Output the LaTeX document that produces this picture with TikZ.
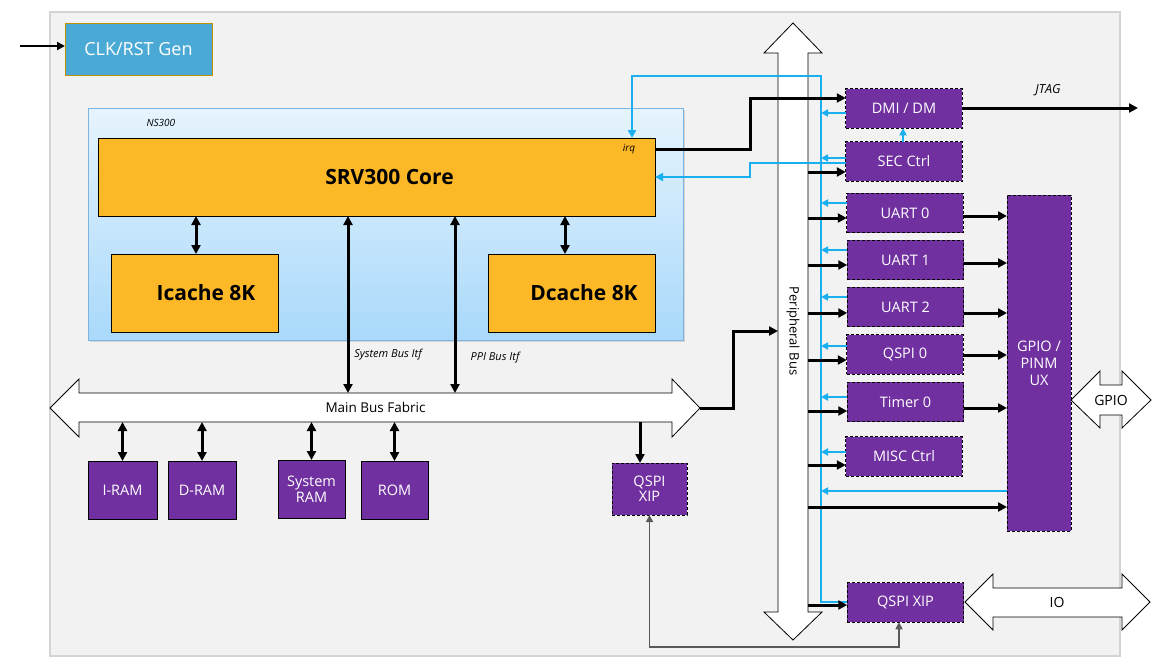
\documentclass[tikz,border=0pt]{standalone}
\usepackage{fontspec}
\setmainfont{Open Sans}
\usetikzlibrary{arrows.meta,shadows}
\definecolor{purp}{HTML}{7030A0}
\definecolor{coreorange}{HTML}{FDB827}
\definecolor{clkblue}{HTML}{4BAAD5}
\definecolor{clkborder}{HTML}{BF9000}
\definecolor{panelgray}{HTML}{F2F2F2}
\definecolor{panelborder}{HTML}{D4D4D4}
\definecolor{irqblue}{HTML}{1AAFEF}
\definecolor{nstop}{HTML}{E6F4FD}
\definecolor{nsbot}{HTML}{A9D9FB}
\definecolor{nsborder}{HTML}{7DB3E0}
\definecolor{linkgray}{HTML}{5A5A5A}
\tikzset{
  pbox/.style={draw=black, dash pattern=on 3pt off 2pt, line width=0.8pt, fill=purp, text=white,
    font=\fontsize{14.5}{17}\selectfont, inner sep=0pt, outer sep=0pt,
    minimum width=116.5pt, minimum height=39.5pt, align=center},
  mbox/.style={draw=black, line width=0.9pt, fill=purp, text=white,
    font=\fontsize{14.5}{16}\selectfont, inner sep=0pt, outer sep=0pt,
    minimum width=69pt, minimum height=58pt, align=center},
  cbox/.style={draw=black, line width=0.9pt, fill=coreorange, inner sep=0pt, outer sep=0pt},
  bigbold/.style={font=\fontsize{21}{24}\selectfont\bfseries},
  itlabel/.style={font=\fontsize{11}{13}\selectfont\itshape},
  blockarrow/.style={draw=black, line width=0.8pt, fill=white},
  blk/.style={line width=3pt, -{Triangle[length=9pt,width=9pt]}},
  dblk/.style={line width=3pt, {Triangle[length=9pt,width=9pt]}-{Triangle[length=9pt,width=9pt]}},
  bmain/.style={draw=irqblue, line width=2pt},
  bsmall/.style={draw=irqblue, line width=1.8pt, -{Triangle[length=7pt,width=7pt]}},
  glink/.style={draw=linkgray, line width=1.6pt, {Triangle[length=7pt,width=7pt]}-{Triangle[length=7pt,width=7pt]}}
}
\begin{document}
\begin{tikzpicture}[x=1pt,y=-1pt]
\useasboundingbox (0,0) rectangle (1167,665);
% panel
\fill[white] (0,0) rectangle (1167,665);
\draw[panelborder, line width=1.6pt, fill=panelgray] (50,12) rectangle (1120,656);

% CLK
\node[draw=clkborder, line width=0.9pt, fill=clkblue, text=white, font=\fontsize{18}{20}\selectfont,
  minimum width=147pt, minimum height=52pt, inner sep=0pt, outer sep=0pt] (clk) at (138.5,49) {CLK/RST Gen};
\coordinate (clkin) at (20,46);
\draw[line width=2.2pt, -{Triangle[length=8pt,width=8pt]}] (clkin) -- (clk.west |- clkin);

% NS300
\node[draw=nsborder, line width=0.9pt, top color=nstop, bottom color=nsbot,
  minimum width=595pt, minimum height=232pt, inner sep=0pt, outer sep=0pt,
  drop shadow={shadow xshift=2pt, shadow yshift=-2pt, opacity=0.25}] (ns) at (385.5,224) {};
\node[font=\fontsize{10}{12}\selectfont\itshape, anchor=west] (nslabel) at (143,123) {NS300};

\node[cbox, minimum width=557pt, minimum height=78pt] (core) at (376.5,177) {};
\node[bigbold] (coretext) at (389.5,177) {SRV300 Core};
\node[font=\fontsize{10}{12}\selectfont\itshape] (irq) at (629,149) {irq};
\node[cbox, minimum width=167pt, minimum height=78pt] (icache) at (194.5,293) {};
\node[bigbold] (icachetext) at (206,293) {Icache 8K};
\node[cbox, minimum width=167pt, minimum height=78pt] (dcache) at (571.5,293) {};
\node[bigbold] (dcachetext) at (584,293) {Dcache 8K};

\draw[dblk] ([xshift=1.5pt]icache.north) -- ([xshift=1.5pt]icache.north |- core.south);
\draw[dblk] ([xshift=-6.5pt]dcache.north) -- ([xshift=-6.5pt]dcache.north |- core.south);

% Main bus fabric
\draw[blockarrow] (50,408) -- (79,379) -- (79,393) -- (672,393) -- (672,379) -- (700,408)
  -- (672,437) -- (672,422) -- (79,422) -- (79,437) -- cycle;
\node[font=\fontsize{13.5}{15}\selectfont, minimum width=593pt, minimum height=29pt, inner sep=0pt, outer sep=0pt]
  (mbf) at (375.5,407.5) {Main Bus Fabric};
\coordinate (mbtip) at (700,408);

% Peripheral bus
\draw[blockarrow] (793,23) -- (822,53) -- (808,53) -- (808,612) -- (822,612) -- (793,640)
  -- (764,612) -- (778,612) -- (778,53) -- (764,53) -- cycle;
\node[minimum width=30pt, minimum height=559pt, inner sep=0pt, outer sep=0pt] (pbus) at (793,332.5) {};
\node[rotate=-90, font=\fontsize{13}{15}\selectfont] (pbuslabel) at (793,331) {Peripheral Bus};

% System / PPI bus interfaces
\coordinate (sbx) at (348,0);
\coordinate (ppix) at (455,0);
\draw[dblk] (core.south -| sbx) -- (mbf.north -| sbx);
\draw[dblk] (core.south -| ppix) -- (mbf.north -| ppix);
\node[itlabel] (sbl) at (388,355) {System Bus Itf};
\node[itlabel] (ppil) at (495,358) {PPI Bus Itf};

% Memories
\node[mbox] (iram) at (122.5,490) {I-RAM};
\node[mbox, minimum width=68pt] (dram) at (202,490) {D-RAM};
\node[mbox, minimum width=67pt] (sysram) at (311.5,489) {System\\RAM};
\node[mbox, minimum width=67pt] (rom) at (394.5,490) {ROM};
\foreach \m in {iram,dram,sysram,rom}{
  \draw[dblk] (\m.north |- mbf.south) -- (\m.north);
}

% left QSPI XIP
\node[pbox, minimum width=75pt, minimum height=52pt, font=\fontsize{14.5}{15}\selectfont] (qxl) at (649.5,489) {QSPI\\XIP};
\draw[blk] ([xshift=-9.5pt]qxl.north |- mbf.south) -- ([xshift=-9.5pt]qxl.north);

% Peripherals
\node[pbox] (dmi) at (904,108.5) {DMI / DM};
\node[pbox] (sec) at (904,161.5) {SEC Ctrl};
\node[pbox] (uart0) at (905,213) {UART 0};
\node[pbox] (uart1) at (905.5,260) {UART 1};
\node[pbox] (uart2) at (905.5,307) {UART 2};
\node[pbox] (qspi0) at (905,354.5) {QSPI 0};
\node[pbox] (timer0) at (905.5,402) {Timer 0};
\node[pbox] (misc) at (904,456.5) {MISC Ctrl};
\node[pbox] (qxr) at (905.5,602.5) {QSPI XIP};
\node[pbox, minimum width=64pt, minimum height=336pt] (gpio) at (1039,363) {GPIO /\\PINM\\UX};

% GPIO and IO block arrows
\draw[blockarrow] (1071,400) -- (1100,371) -- (1100,385) -- (1122,385) -- (1122,371) -- (1151,400)
  -- (1122,428) -- (1122,415) -- (1100,415) -- (1100,428) -- cycle;
\node[font=\fontsize{14}{16}\selectfont] (gpiolabel) at (1111,400) {GPIO};
\draw[blockarrow] (965,602) -- (993,574) -- (993,588) -- (1122,588) -- (1122,574) -- (1150,602)
  -- (1122,630) -- (1122,617) -- (993,617) -- (993,630) -- cycle;
\node[font=\fontsize{14}{16}\selectfont] (iolabel) at (1057,602) {IO};

% main bus -> peripheral bus
\draw[blk] (mbtip) -- (733,408) -- (733,331) -- (pbus.west |- 0,331);

% blue interrupt bus
\coordinate (blueline) at (821,0);
\draw[bmain, -{Triangle[length=8pt,width=8pt]}] (qxr.west |- 0,602) -| (821,76) -| (core.north -| 632,0);
\foreach \n/\yb in {dmi/113, sec/158, uart0/203, uart1/250, uart2/297, qspi0/346, timer0/397, misc/452, gpio/491}{
  \draw[bsmall] (\n.west |- 0,\yb) -- (blueline |- 0,\yb);
}
\draw[bsmall] (sec.north -| 903,0) -- (dmi.south -| 903,0);
\draw[bmain, -{Triangle[length=8pt,width=8pt]}] (sec.west |- 0,163) -| (750,177) -- (core.east |- 0,177);

% core irq -> DMI
\draw[blk] (core.east |- 0,149) -| (750,98) -- (dmi.west |- 0,98);

% peripheral bus -> peripherals
\foreach \n/\yk in {sec/172, uart0/218, uart1/265, uart2/313, qspi0/360, timer0/411, misc/465, gpio/507, qxr/605}{
  \draw[blk] (pbus.east |- 0,\yk) -- (\n.west |- 0,\yk);
}
% peripherals -> GPIO
\foreach \n/\yk in {uart0/216, uart1/263, uart2/313, qspi0/355, timer0/408}{
  \draw[blk] (\n.east |- 0,\yk) -- (gpio.west |- 0,\yk);
}

% JTAG
\coordinate (jtagout) at (1138,108);
\draw[blk] (dmi.east |- jtagout) -- (jtagout);
\node[font=\fontsize{12.5}{14}\selectfont\itshape] (jtag) at (1048,90) {JTAG};

% XIP link
\draw[glink] (qxl.south) |- (899,647) -- (qxr.south -| 899,0);
\end{tikzpicture}
\end{document}
